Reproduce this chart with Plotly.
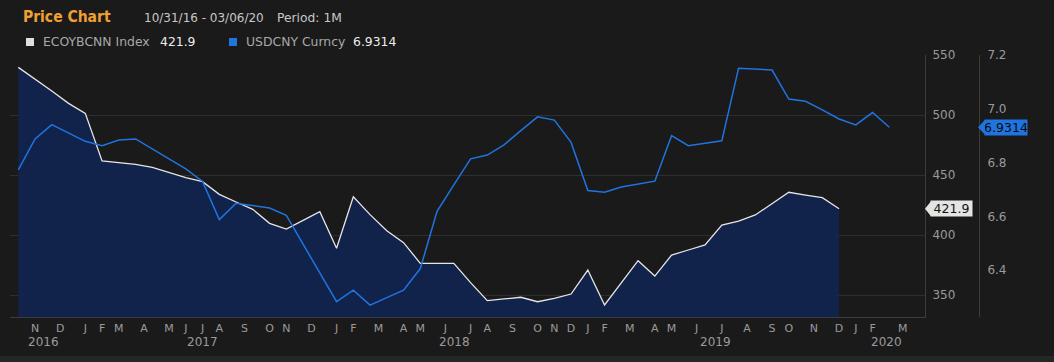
import plotly.graph_objects as go

# ---- data ----
eco_values = [539.7, 530.0, 520.0, 509.7, 501.4, 461.7, 460.3, 458.9, 456.4, 451.9,
              447.8, 444.4, 433.9, 427.5, 421.4, 409.7, 405.0, 412.2, 419.4, 388.9,
              431.9, 417.0, 403.6, 393.6, 376.4, 376.4, 376.4, 360.3, 345.3, 346.7,
              348.1, 344.4, 347.2, 350.8, 370.8, 341.7, 360.3, 378.6, 365.8, 383.3,
              387.5, 391.7, 408.3, 411.5, 416.7, 425.8, 435.6, 433.3, 431.1, 421.9]
usd_values = [6.773, 6.888, 6.941, 6.910, 6.879, 6.863, 6.884, 6.888, 6.851, 6.814,
              6.777, 6.730, 6.588, 6.649, 6.641, 6.631, 6.604, 6.496, 6.390, 6.283,
              6.326, 6.270, 6.298, 6.326, 6.406, 6.619, 6.717, 6.814, 6.828, 6.866,
              6.919, 6.970, 6.958, 6.875, 6.696, 6.690, 6.709, 6.721, 6.731, 6.900,
              6.863, 6.872, 6.881, 7.151, 7.147, 7.144, 7.036, 7.028, 6.996, 6.962,
              6.940, 6.986, 6.9314]
eco_x = list(range(len(eco_values)))
usd_x = list(range(len(usd_values)))

month_labels = ["N", "D",
                "J", "F", "M", "A", "M", "J", "J", "A", "S", "O", "N", "D",
                "J", "F", "M", "A", "M", "J", "J", "A", "S", "O", "N", "D",
                "J", "F", "M", "A", "M", "J", "J", "A", "S", "O", "N", "D",
                "J", "F", "M"]
month_pos = [1, 2.5,
             4, 5, 6, 7.5, 9, 10, 11, 12, 13.5, 15, 16, 17.5,
             19, 20, 21.5, 23, 24, 25.5, 27, 28, 29.5, 31, 32, 33,
             34, 35, 36.5, 38, 39, 40.5, 42, 43.5, 45, 46, 47.5, 49,
             50, 51, 52.8]
year_labels = ["2016", "2017", "2018", "2019", "2020"]
year_pos = [1.5, 11.0, 26.07, 41.6, 51.84]

left_ticks = [350, 400, 450, 500, 550]
right_ticks = [6.4, 6.6, 6.8, 7.0, 7.2]

eco_name = "ECOYBCNN Index"
usd_name = "USDCNY Curncy"

# ---- styling ----
BG = "#1a1a1a"
GRID = "#2e2e2e"
AXLINE = "#3c3c3c"
TICK = "#9a9a9a"
WHITE = "#e6e6e6"
BLUE = "#1f74e0"
FILL = "rgba(16,36,82,0.88)"
FONT = "DejaVu Sans"

W, H = 1054, 362
ML, MR, MT, MB = 10, 24, 55, 45
PW = W - ML - MR
PH = H - MT - MB


def px(xp):
    return (xp - ML) / PW


def py(yp):
    return (H - MB - yp) / PH


fig = go.Figure()
fig.add_trace(go.Scatter(x=eco_x, y=eco_values, mode="lines", name=eco_name,
                         line=dict(color=WHITE, width=1.3), fill="tozeroy",
                         fillcolor=FILL, yaxis="y", hoverinfo="skip"))
fig.add_trace(go.Scatter(x=usd_x, y=usd_values, mode="lines", name=usd_name,
                         line=dict(color=BLUE, width=1.5), yaxis="y2",
                         hoverinfo="skip"))

annotations = []
# year labels
for lab, pos in zip(year_labels, year_pos):
    annotations.append(dict(x=pos, xref="x", y=py(342), yref="paper", text=lab,
                            showarrow=False, xanchor="center", yanchor="middle",
                            font=dict(family=FONT, size=12, color=TICK)))
# header
annotations += [
    dict(x=px(21), y=py(17), xref="paper", yref="paper", text="Price Chart",
         showarrow=False, xanchor="left", yanchor="middle",
         font=dict(family="DejaVu Sans Condensed", size=15.5, color="#f0a032", weight="bold")),
    dict(x=px(142), y=py(18), xref="paper", yref="paper", text="10/31/16 - 03/06/20",
         showarrow=False, xanchor="left", yanchor="middle",
         font=dict(family=FONT, size=12, color="#c8c8c8")),
    dict(x=px(275), y=py(18), xref="paper", yref="paper", text="Period: 1M",
         showarrow=False, xanchor="left", yanchor="middle",
         font=dict(family=FONT, size=12.3, color="#c8c8c8")),
    dict(x=px(41), y=py(42), xref="paper", yref="paper", text=eco_name,
         showarrow=False, xanchor="left", yanchor="middle",
         font=dict(family=FONT, size=12.4, color="#a8a8a8")),
    dict(x=px(158), y=py(42), xref="paper", yref="paper", text=f"{eco_values[-1]:.1f}",
         showarrow=False, xanchor="left", yanchor="middle",
         font=dict(family=FONT, size=12.4, color="#ececec")),
    dict(x=px(244), y=py(42), xref="paper", yref="paper", text=usd_name,
         showarrow=False, xanchor="left", yanchor="middle",
         font=dict(family=FONT, size=12.4, color="#a8a8a8")),
    dict(x=px(351), y=py(42), xref="paper", yref="paper", text=f"{usd_values[-1]:.4f}",
         showarrow=False, xanchor="left", yanchor="middle",
         font=dict(family=FONT, size=12.4, color="#ececec")),
    # last value tags
    dict(x=px(930), y=eco_values[-1], xref="paper", yref="y", text=f"{eco_values[-1]:.1f}",
         showarrow=False, xanchor="left", yanchor="middle", bgcolor="#e4e4e4",
         width=41, height=15, borderpad=0,
         font=dict(family=FONT, size=12.5, color="#111111")),
    dict(x=px(984), y=usd_values[-1], xref="paper", yref="y2", text=f"{usd_values[-1]:.4f}",
         showarrow=False, xanchor="left", yanchor="middle", bgcolor="#1f74e0",
         width=42, height=15, borderpad=0,
         font=dict(family=FONT, size=12.5, color="#0a0a0a")),
]

shapes = [
    # legend squares
    dict(type="rect", xref="paper", yref="paper", x0=px(26), x1=px(34), y0=py(38), y1=py(46),
         fillcolor="#e0e0e0", line=dict(width=0)),
    dict(type="rect", xref="paper", yref="paper", x0=px(229), x1=px(237), y0=py(38), y1=py(46),
         fillcolor=BLUE, line=dict(width=0)),
    # bottom band
    dict(type="rect", xref="paper", yref="paper", x0=px(0), x1=px(W), y0=py(H), y1=py(356),
         fillcolor="#262626", line=dict(width=0), layer="below"),
    # tag pointers
    dict(type="path", xref="paper", yref="y", xsizemode="pixel", ysizemode="pixel",
         xanchor=px(925), yanchor=eco_values[-1], path="M0,0 L6,-7.5 L6,7.5 Z",
         fillcolor="#e4e4e4", line=dict(width=0)),
    dict(type="path", xref="paper", yref="y2", xsizemode="pixel", ysizemode="pixel",
         xanchor=px(978), yanchor=usd_values[-1], path="M0,0 L7,-7.5 L7,7.5 Z",
         fillcolor="#1f74e0", line=dict(width=0)),
]

fig.update_layout(
    width=W, height=H,
    margin=dict(l=ML, r=MR, t=MT, b=MB),
    paper_bgcolor=BG, plot_bgcolor=BG,
    showlegend=False,
    font=dict(family=FONT, color=TICK),
    xaxis=dict(domain=[0, px(925)], range=[-0.496, 54.13], tickmode="array",
               tickvals=month_pos, ticktext=month_labels, showgrid=False,
               zeroline=False, showline=True, linecolor=AXLINE, linewidth=1,
               ticks="outside", ticklen=1, tickcolor="rgba(0,0,0,0)",
               tickfont=dict(family=FONT, size=11, color=TICK)),
    yaxis=dict(side="right", range=[331.67, 550], tickmode="array", tickvals=left_ticks,
               showgrid=True, gridcolor=GRID, gridwidth=1, zeroline=False,
               showline=True, linecolor=AXLINE, linewidth=1,
               ticks="outside", ticklen=4, tickcolor="rgba(0,0,0,0)",
               tickfont=dict(family=FONT, size=12, color=TICK)),
    yaxis2=dict(overlaying="y", anchor="free", position=px(979), side="right",
                range=[6.226, 7.2], tickmode="array", tickvals=right_ticks,
                ticktext=[f"{v:.1f}" for v in right_ticks],
                showgrid=False, zeroline=False, showline=True, linecolor=AXLINE,
                linewidth=1, ticks="outside", ticklen=5, tickcolor="rgba(0,0,0,0)",
                tickfont=dict(family=FONT, size=12, color=TICK)),
    annotations=annotations,
    shapes=shapes,
)

fig.write_html("out.html", config={"displayModeBar": False},
               post_script="document.body.style.margin='0';document.body.style.background='#1a1a1a';")
